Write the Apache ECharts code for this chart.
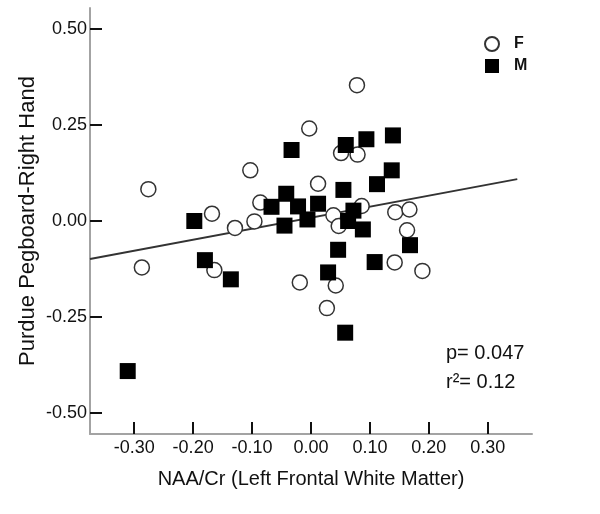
<!DOCTYPE html>
<html>
<head>
<meta charset="utf-8">
<script src="https://cdn.jsdelivr.net/npm/echarts@6/dist/echarts.min.js"></script>
<style>html,body{margin:0;padding:0;background:#fff}#c{width:600px;height:514px}</style>
</head>
<body>
<div id="c"></div>
<script>
// Female (circles): [NAA/Cr, Purdue Pegboard]
const femaleX = [-0.276,-0.287,-0.168,-0.164,-0.129,-0.096,-0.103,-0.086,-0.003,0.012,-0.019,0.027,0.042,0.038,0.047,0.051,0.079,0.078,0.086,0.143,0.167,0.163,0.142,0.189];
const femaleY = [0.083,-0.121,0.019,-0.128,-0.018,-0.001,0.132,0.048,0.241,0.097,-0.160,-0.227,-0.168,0.015,-0.013,0.177,0.173,0.354,0.039,0.023,0.030,-0.024,-0.108,-0.130];
// Male (squares)
const maleX = [-0.311,-0.198,-0.180,-0.136,-0.033,-0.042,-0.067,-0.022,0.012,-0.006,-0.045,0.059,0.094,0.139,0.137,0.112,0.055,0.072,0.063,0.088,0.046,0.029,0.108,0.168,0.058];
const maleY = [-0.391,0.000,-0.102,-0.152,0.185,0.071,0.037,0.038,0.045,0.004,-0.012,0.198,0.213,0.223,0.132,0.096,0.081,0.027,0.000,-0.022,-0.075,-0.134,-0.107,-0.063,-0.291];
// Fit line endpoints
const fitX = [-0.375, 0.350];
const fitY = [-0.099, 0.109];
// Ticks
const xTicks = [-0.3,-0.2,-0.1,0,0.1,0.2,0.3];
const yTicks = [-0.5,-0.25,0,0.25,0.5];
const statsText = ['p= 0.047','r\u00b2= 0.12'];

const zip = (a,b) => a.map((v,i)=>[v,b[i]]);
const FONT = '"Liberation Sans", Arial, sans-serif';
const chart = echarts.init(document.getElementById('c'), null, {renderer:'canvas'});
const axisCommon = {
  axisLine:{show:true, onZero:false, lineStyle:{color:'#a3a3a3', width:2}},
  axisTick:{show:true, inside:true, length:12, lineStyle:{color:'#111', width:2}},
  splitLine:{show:false},
  axisLabel:{color:'#111', fontFamily:FONT, fontSize:18, formatter:v=>v.toFixed(2)},
  nameTextStyle:{color:'#111', fontFamily:FONT}
};
chart.setOption({
  animation:false,
  backgroundColor:'#fff',
  grid:{left:90, right:68, top:8, bottom:80},
  xAxis:Object.assign({}, axisCommon, {
    type:'value', min:-0.375, max:0.375,
    name:'NAA/Cr (Left Frontal White Matter)', nameLocation:'middle', nameGap:35, nameMoveOverlap:false,
    nameTextStyle:{color:'#111', fontFamily:FONT, fontSize:20},
    axisTick:Object.assign({}, axisCommon.axisTick, {customValues:xTicks}),
    axisLabel:Object.assign({}, axisCommon.axisLabel, {customValues:xTicks, margin:5})
  }),
  yAxis:Object.assign({}, axisCommon, {
    type:'value', min:-0.555, max:0.555,
    name:'Purdue Pegboard-Right Hand', nameLocation:'middle', nameGap:51, nameMoveOverlap:false,
    nameTextStyle:{color:'#111', fontFamily:FONT, fontSize:22},
    axisTick:Object.assign({}, axisCommon.axisTick, {customValues:yTicks}),
    axisLabel:Object.assign({}, axisCommon.axisLabel, {customValues:yTicks, margin:3})
  }),
  legend:{
    orient:'vertical', left:479, top:31, itemWidth:14, itemHeight:14, itemGap:6,
    data:['F','M'],
    textStyle:{color:'#111', fontFamily:FONT, fontSize:16, fontWeight:'bold', padding:[0,0,0,10]}
  },
  graphic:[
    {type:'text', left:446, top:343, style:{text:statsText[0], fill:'#111', font:'20px '+FONT}},
    {type:'text', left:446, top:372, style:{text:statsText[1], fill:'#111', font:'20px '+FONT}}
  ],
  series:[
    {name:'fit', type:'line', data:zip(fitX,fitY), symbol:'none', silent:true,
     lineStyle:{color:'#333', width:1.8}, z:1},
    {name:'F', type:'scatter', data:zip(femaleX,femaleY), symbol:'circle', symbolSize:15,
     itemStyle:{color:'#fff', borderColor:'#333', borderWidth:1.5, opacity:1}, z:2},
    {name:'M', type:'scatter', data:zip(maleX,maleY), symbol:'rect', symbolSize:16,
     itemStyle:{color:'#000', opacity:1}, z:3}
  ]
});
</script>
</body>
</html>
